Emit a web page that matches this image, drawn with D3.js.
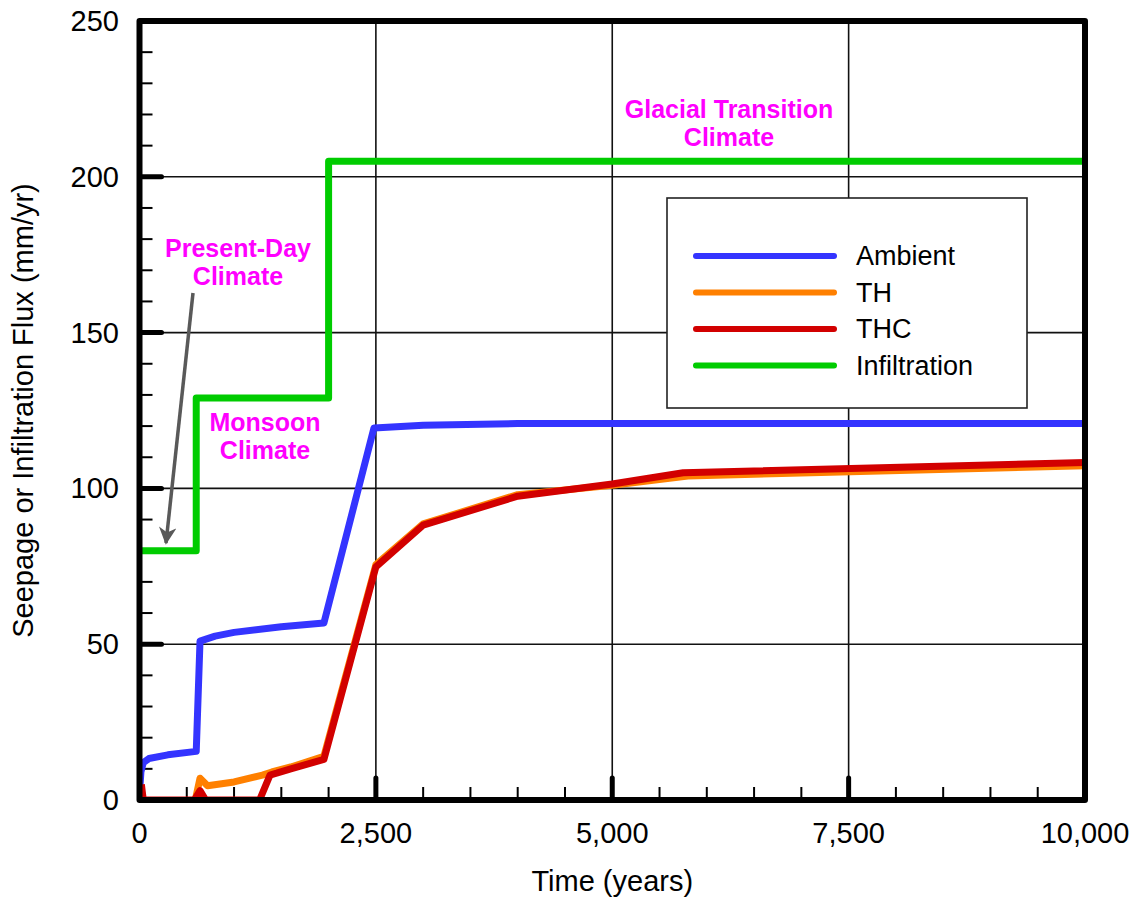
<!DOCTYPE html>
<html>
<head>
<meta charset="utf-8">
<script src="https://cdn.jsdelivr.net/npm/d3@7"></script>
<style>
  body { margin: 0; background: #fff; }
  text { font-family: "Liberation Sans", Arial, sans-serif; }
</style>
</head>
<body>
<svg id="chart" width="1140" height="901"></svg>
<script>
// series data (time in years, flux in mm/yr)
const ambient = [[0, 2], [15, 9], [40, 12], [100, 13.3], [300, 14.5], [600, 15.6], [640, 51], [800, 52.6], [1000, 53.8], [1500, 55.6], [1950, 56.8], [2480, 119.4], [3000, 120.3], [4000, 120.8], [10000, 120.8]];
const th = [[590, 0], [640, 7], [720, 4.6], [1000, 5.8], [1300, 8], [1400, 9], [1600, 10.6], [1950, 14], [2500, 75.5], [3000, 88.6], [4000, 98], [5000, 101], [5800, 104], [10000, 107.3]];
const thc = [[20, 5], [40, 0], [580, 0], [640, 3], [700, 0], [1270, 0], [1380, 8], [1450, 8.6], [1600, 10], [1950, 13], [2500, 74.8], [3000, 88.2], [4000, 97.5], [5000, 101.4], [5750, 105], [10000, 108.3]];
const infiltration = [[0, 80], [600, 80], [600, 129], [2000, 129], [2000, 205], [10000, 205]];

const seriesNames = ['Ambient', 'TH', 'THC', 'Infiltration'];
const seriesColors = ['#3434ff', '#ff8000', '#d20000', '#00cc00'];
const xTicks = [0, 2500, 5000, 7500, 10000];
const yTicks = [0, 50, 100, 150, 200, 250];

const svg = d3.select('#chart');
const margin = {left: 139.5, right: 55, top: 21, bottom: 101};
const W = 1140, H = 901;

const x = d3.scaleLinear().domain([0, 10000]).range([margin.left, W - margin.right]);
const y = d3.scaleLinear().domain([0, 250]).range([H - margin.bottom, margin.top]);

svg.append('defs').append('clipPath').attr('id', 'clip')
    .append('rect')
    .attr('x', x(0)).attr('y', y(250))
    .attr('width', x(10000) - x(0)).attr('height', y(0) - y(250));

// grid lines
svg.append('g').selectAll('line')
    .data(xTicks.slice(1, -1))
    .join('line')
    .attr('x1', d => x(d)).attr('x2', d => x(d))
    .attr('y1', y(0)).attr('y2', y(250))
    .attr('stroke', '#111').attr('stroke-width', 1.6);
svg.append('g').selectAll('line')
    .data(yTicks.slice(1, -1))
    .join('line')
    .attr('x1', x(0)).attr('x2', x(10000))
    .attr('y1', d => y(d)).attr('y2', d => y(d))
    .attr('stroke', '#111').attr('stroke-width', 1.6);

// minor ticks
svg.append('g').selectAll('line')
    .data(d3.range(10, 250, 10).filter(v => v % 50 !== 0))
    .join('line')
    .attr('x1', x(0)).attr('x2', x(0) + 13)
    .attr('y1', d => y(d)).attr('y2', d => y(d))
    .attr('stroke', '#000').attr('stroke-width', 2);
svg.append('g').selectAll('line')
    .data(d3.range(500, 10000, 500).filter(v => v % 2500 !== 0))
    .join('line')
    .attr('x1', d => x(d)).attr('x2', d => x(d))
    .attr('y1', y(0)).attr('y2', y(0) - 13)
    .attr('stroke', '#000').attr('stroke-width', 2);

// major ticks
svg.append('g').selectAll('line')
    .data(yTicks.slice(1, -1))
    .join('line')
    .attr('x1', x(0)).attr('x2', x(0) + 22)
    .attr('y1', d => y(d)).attr('y2', d => y(d))
    .attr('stroke', '#000').attr('stroke-width', 5).attr('stroke-linecap', 'round');
svg.append('g').selectAll('line')
    .data(xTicks.slice(1, -1))
    .join('line')
    .attr('x1', d => x(d)).attr('x2', d => x(d))
    .attr('y1', y(0)).attr('y2', y(0) - 22)
    .attr('stroke', '#000').attr('stroke-width', 5).attr('stroke-linecap', 'round');

// series
const line = d3.line().x(d => x(d[0])).y(d => y(d[1]));
const plot = svg.append('g').attr('clip-path', 'url(#clip)');
[infiltration, ambient, th, thc].forEach((s, i) => {
    const c = [seriesColors[3], seriesColors[0], seriesColors[1], seriesColors[2]][i];
    plot.append('path')
        .datum(s)
        .attr('d', line)
        .attr('fill', 'none')
        .attr('stroke', c)
        .attr('stroke-width', 7)
        .attr('stroke-linejoin', 'round');
});

// frame
svg.append('rect')
    .attr('x', x(0)).attr('y', y(250))
    .attr('width', x(10000) - x(0)).attr('height', y(0) - y(250))
    .attr('fill', 'none').attr('stroke', '#000').attr('stroke-width', 6)
    .attr('stroke-linejoin', 'round');

// tick labels
svg.append('g').selectAll('text')
    .data(yTicks)
    .join('text')
    .attr('x', 119).attr('y', d => y(d) + 10)
    .attr('text-anchor', 'end')
    .attr('font-size', 29)
    .text(d => d);
svg.append('g').selectAll('text')
    .data(xTicks)
    .join('text')
    .attr('x', d => x(d)).attr('y', 843)
    .attr('text-anchor', 'middle')
    .attr('font-size', 29)
    .text(d => d3.format(',')(d));

// axis titles
svg.append('text')
    .attr('x', x(5000)).attr('y', 891)
    .attr('text-anchor', 'middle').attr('font-size', 29)
    .text('Time (years)');
svg.append('text')
    .attr('transform', `translate(33, ${y(125)}) rotate(-90)`)
    .attr('text-anchor', 'middle').attr('font-size', 29)
    .text('Seepage or Infiltration Flux (mm/yr)');

// climate annotations
const notes = [
    {lines: ['Glacial Transition', 'Climate'], cx: 729, cy: 118},
    {lines: ['Present-Day', 'Climate'], cx: 238, cy: 257},
    {lines: ['Monsoon', 'Climate'], cx: 265, cy: 431}
];
notes.forEach(n => {
    svg.append('text')
        .attr('text-anchor', 'middle')
        .attr('font-size', 25).attr('font-weight', 'bold')
        .attr('fill', '#ff00ff')
        .selectAll('tspan')
        .data(n.lines)
        .join('tspan')
        .attr('x', n.cx).attr('y', (d, i) => n.cy + i * 28)
        .text(d => d);
});

// arrow to present-day level
svg.select('defs').append('marker')
    .attr('id', 'arrow')
    .attr('viewBox', '0 0 10 10')
    .attr('refX', 9).attr('refY', 5)
    .attr('markerWidth', 5).attr('markerHeight', 5)
    .attr('markerUnits', 'strokeWidth')
    .attr('orient', 'auto')
    .append('path').attr('d', 'M0,0 L10,5 L0,10 L3,5 Z').attr('fill', '#595959');
svg.append('line')
    .attr('x1', 193).attr('y1', 293)
    .attr('x2', 166).attr('y2', 543)
    .attr('stroke', '#595959').attr('stroke-width', 3.5)
    .attr('marker-end', 'url(#arrow)');

// legend
const lg = svg.append('g');
lg.append('rect')
    .attr('x', 667).attr('y', 198).attr('width', 360).attr('height', 210)
    .attr('fill', '#fff').attr('stroke', '#222').attr('stroke-width', 1.6);
seriesNames.forEach((name, i) => {
    const ly = 256 + i * 36.5;
    lg.append('line')
        .attr('x1', 696).attr('x2', 834).attr('y1', ly).attr('y2', ly)
        .attr('stroke', seriesColors[i]).attr('stroke-width', 6)
        .attr('stroke-linecap', 'round');
    lg.append('text')
        .attr('x', 856).attr('y', ly + 9)
        .attr('font-size', 27)
        .text(name);
});
</script>
</body>
</html>
